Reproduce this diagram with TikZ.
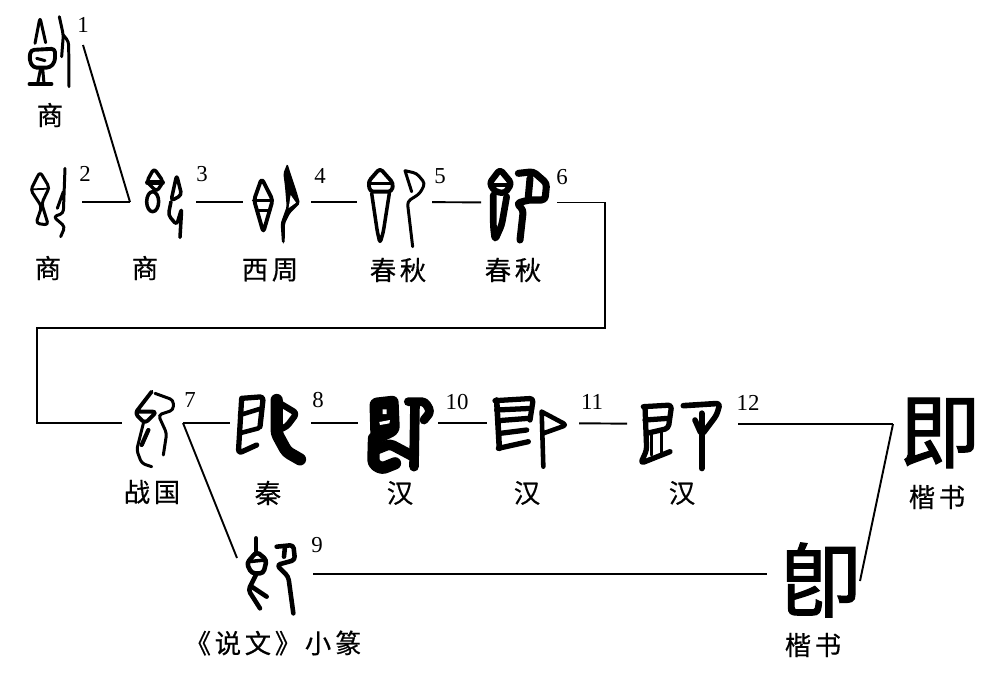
\documentclass[tikz,border=0pt]{standalone}
\usepackage{fontspec}
\setmainfont{Liberation Serif}
\newfontfamily\cjk[LetterSpace=14, FakeBold=0.5]{Noto Sans CJK SC}
\newfontfamily\cjkbig[FakeBold=1.5]{Noto Sans CJK SC}

\begin{document}
\begin{tikzpicture}[
    x=0.02cm, y=-0.02cm,
    stage/.style={inner sep=0pt, outer sep=0pt, minimum height=4pt, minimum width=#1*0.02cm},
    link/.style={line width=1.1pt},
    num/.style={font=\fontsize{13}{13}\selectfont, inner sep=0pt},
    period/.style={font=\cjk\fontsize{15}{15}\selectfont, inner sep=0pt},
    kai/.style={font=\cjkbig\fontsize{46}{46}\selectfont, inner sep=0pt},
    brush/.style={line width=#1, line join=round, line cap=round, rounded corners=2pt},
    brush/.default=1.7pt
]
\useasboundingbox (0,0) rectangle (997,681);

% stages of the chain
\node[stage=66] (g1) at (50,45) {};
\node[stage=64] (g2) at (50,202) {};
\node[stage=66] (g3) at (163,202) {};
\node[stage=68] (g4) at (277,202) {};
\node[stage=75] (g5) at (394.5,202) {};
\node[stage=76] (g6) at (519,202.5) {};
\node[stage=61] (g7) at (152.5,423) {};
\node[stage=81] (g8) at (270.5,423) {};
\node[stage=80] (g10) at (398,423) {};
\node[stage=92] (g11) at (533,423) {};
\node[stage=111] (g12) at (682.5,424) {};
\node[stage=76, minimum height=32*0.02cm] (g9) at (275,574) {};
\node[stage=93] (g13) at (813.5,581) {};
\coordinate (j12) at (893,424);

% connectors
\draw[link] (g1.east) -- (g3.west);
\draw[link] (g2) -- (g3);
\draw[link] (g3) -- (g4);
\draw[link] (g4) -- (g5);
\draw[link] (g5) -- (g6);
\draw[link] (g6.east) -- ++(48,0) |- (37,328) |- (g7.west);
\draw[link] (g7) -- (g8);
\draw[link] (g8) -- (g10);
\draw[link] (g10) -- (g11);
\draw[link] (g11) -- (g12);
\draw[link] (g12) -- (j12);
\draw[link] (j12) -- (g13.east);
\draw[link] (g7.east) -- (g9.north west);
\draw[link] (g9.east) -- (g9.east -| g13.west);

% numbers
\node[num] (n1) at (83,25) {1};
\node[num] (n2) at (85,174) {2};
\node[num] (n3) at (202,174) {3};
\node[num] (n4) at (320,176) {4};
\node[num] (n5) at (440,176) {5};
\node[num] (n6) at (562,177) {6};
\node[num] (n7) at (190,400) {7};
\node[num] (n8) at (318,400) {8};
\node[num] (n9) at (317,545) {9};
\node[num] (n10) at (457,402) {10};
\node[num] (n11) at (592,402) {11};
\node[num] (n12) at (748,403) {12};

% periods
\node[period] (p1) at (50,115) {商};
\node[period] (p2) at (48,268) {商};
\node[period] (p3) at (145,268) {商};
\node[period] (p4) at (270,270) {西周};
\node[period] (p5) at (398,270) {春秋};
\node[period] (p6) at (513,270) {春秋};
\node[period] (p7) at (152,492) {战国};
\node[period] (p8) at (268,493) {秦};
\node[period] (p9) at (400,493) {汉};
\node[period] (p10) at (527,493) {汉};
\node[period] (p11) at (682,493) {汉};
\node[period] (p12) at (273,643) {《说文》小篆};
\node[period] (p13) at (937,497) {楷书};
\node[period] (p14) at (813,645) {楷书};

% regular script
\node[kai] (k1) at (940,433) {即};
\node[kai] (k2) at (821,580) {卽};

% oracle bone and bronze forms
\begin{scope}[scale=1/3]
\draw[brush] (105,130) -- (120,52) -- (137,128);
\draw[brush=2.2pt] (92,150) -- (165,146) -- (165,185) -- (150,203) -- (100,203) -- (88,180) -- cycle;
\draw[brush] (110,175) -- (135,182);
\draw[brush] (122,205) -- (113,250) (128,205) -- (132,250);
\draw[brush=2pt] (88,252) -- (155,252);
\draw[brush] (178,50) -- (190,105) -- (185,170) (190,105) -- (206,125) -- (207,260);
\draw[brush] (120,515) -- (148,562) -- (125,610) -- (145,675) -- (108,670) -- (125,620) -- (92,570) -- cycle;
\draw[brush=1pt] (95,568) -- (148,566);
\draw[brush] (195,505) -- (190,640) -- (160,650) -- (195,680) -- (182,710) (190,575) -- (172,625);
\draw[brush=2pt] (462,505) -- (490,545) -- (470,575) -- (440,545) -- cycle;
\draw[brush=2.6pt] (442,548) -- (488,548);
\draw[brush=2pt] (458,605) ellipse [x radius=18, y radius=30];
\draw[brush=2pt] (530,525) -- (545,585) -- (513,603) -- cycle;
\draw[brush=2pt] (513,605) -- (505,645) -- (530,675) -- (545,625) -- (540,712);
\draw[brush=2.2pt] (785,535) -- (818,600) -- (790,697) -- (762,600) -- cycle;
\draw[brush=1.7pt] (760,600) -- (815,600) (770,632) -- (810,632);
\fill[rounded corners=1pt] (862,490) -- (875,530) -- (890,575) -- (900,610) -- (870,640) -- (855,670) -- (854,730) -- (846,730) -- (842,670) -- (860,620) -- (855,560) -- (850,520) -- cycle;
\fill[white] (872,585) -- (888,608) -- (866,624) -- cycle;
\end{scope}

\begin{scope}[shift={(330,150)}, scale=1/3]
\draw[brush=2.2pt] (150,55) -- (190,100) -- (185,125) -- (120,125) -- (115,95) -- cycle;
\draw[brush=1.7pt] (120,100) -- (185,100);
\draw[brush=2pt] (125,130) -- (142,245) -- (150,280) -- (160,245) -- (178,130);
\draw[brush=1.7pt] (225,62) -- (260,70) -- (285,100) -- (270,130) -- (232,155) -- (248,290) (225,62) -- (245,125);
\draw[brush=3.6pt] (510,58) -- (545,100) -- (525,130) -- (495,125) -- (478,100) -- cycle;
\draw[brush=2pt] (490,105) -- (530,105);
\draw[brush=3.8pt] (490,135) -- (490,230) -- (495,270) -- (515,225) -- (530,140);
\draw[brush=4pt] (565,70) -- (610,65) -- (650,100) -- (645,150) -- (595,150) -- (560,160) -- (580,180) -- (570,270);
\draw[brush=4pt] (600,85) -- (595,140);
\end{scope}

\begin{scope}[shift={(100,370)}, scale=1/3]
\draw[brush=2.2pt] (155,65) -- (105,130) -- (135,160) -- (170,125) -- (110,125);
\draw[brush=1.7pt] (165,70) -- (220,90) -- (220,120) -- (175,135) -- (200,190) -- (190,255);
\draw[brush=1.7pt] (130,160) -- (110,240) -- (125,280) -- (155,290);
\draw[brush=2.4pt] (145,180) -- (125,225);
% qin
\draw[brush=3pt] (425,85) -- (490,80) -- (480,170) (425,85) -- (415,250) -- (470,225);
\draw[brush=2.6pt] (420,135) -- (485,115) (418,190) -- (475,175);
\draw[brush=7pt] (530,90) -- (530,190) -- (560,245) -- (600,268);
\draw[brush=3.6pt] (540,100) -- (590,130) -- (560,170) -- (535,180);
% han
\fill[rounded corners=4pt] (808,85) -- (895,75) -- (900,190) -- (835,222) -- (812,225) -- cycle;
\draw[brush=7pt] (822,205) -- (820,280) -- (845,296) -- (885,280);
\draw[brush=6pt] (825,240) -- (870,222) -- (938,258);
\draw[brush=5pt] (925,95) -- (975,95) -- (992,125) -- (972,150);
\draw[brush=5.5pt] (945,100) -- (942,290);
\fill[white] (848,118) rectangle (860,132) (838,156) -- (870,150) -- (868,160) -- (840,165) -- cycle;
% seal
\draw[brush=2.6pt] (468,505) -- (468,550);
\draw[brush=2.6pt] (470,545) -- (500,570) -- (490,610) -- (455,610) -- (440,580) -- cycle;
\draw[brush=2pt] (445,575) -- (495,570);
\draw[brush=2.6pt] (470,610) -- (445,660) -- (480,715) (455,650) -- (500,680);
\draw[brush=2.6pt] (530,530) -- (580,525) -- (585,570) -- (530,585) -- (565,620) -- (580,730);
\draw[brush=2.6pt] (555,530) -- (552,560);
\end{scope}

\begin{scope}[shift={(430,370)}, scale=1/3]
\draw[brush=3pt] (195,92) -- (310,85) -- (300,150);
\draw[brush=3pt] (200,120) -- (305,115) (205,152) -- (295,145) (210,190) -- (290,180) (205,235) -- (295,215);
\draw[brush=3.2pt] (200,90) -- (208,235);
\draw[brush=2.6pt] (335,125) -- (340,290) (335,125) -- (410,165) -- (340,190);
\draw[brush=3pt] (640,110) -- (725,105) -- (715,175) -- (650,190) (645,150) -- (715,145);
\draw[brush=3pt] (645,110) -- (650,240) -- (632,280) -- (720,245);
\draw[brush=1.8pt] (665,190) -- (665,255) (695,185) -- (695,250);
\draw[brush=3.2pt] (760,107) -- (870,100) -- (860,135) -- (815,195) -- (795,150);
\draw[brush=3.4pt] (815,130) -- (815,295);
\end{scope}
\end{tikzpicture}
\end{document}
